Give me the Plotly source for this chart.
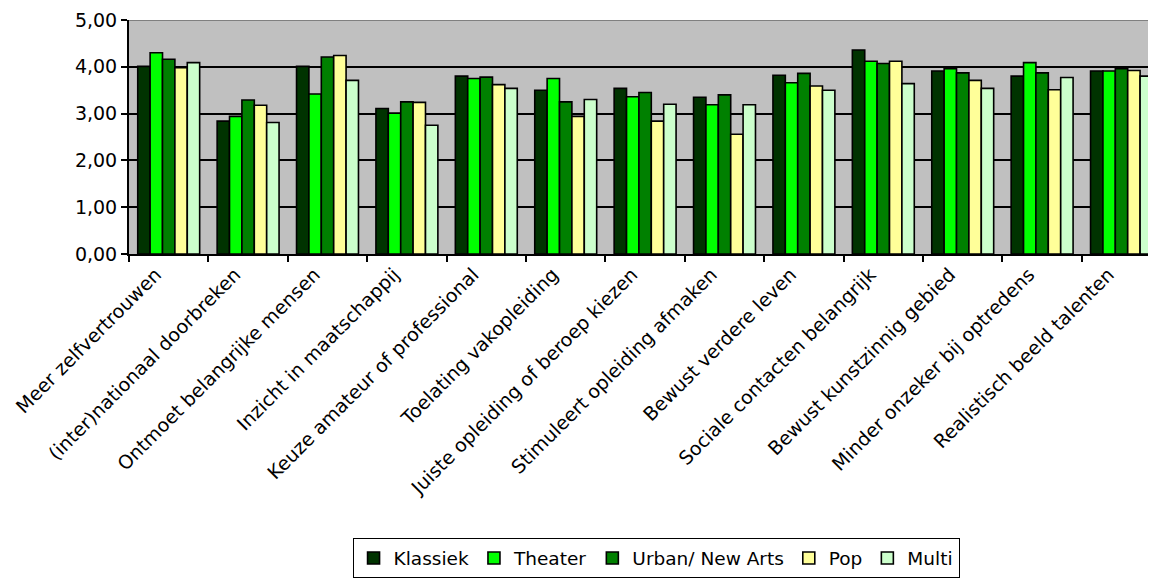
import plotly.graph_objects as go

categories = [
    "Meer zelfvertrouwen",
    "(inter)nationaal doorbreken",
    "Ontmoet belangrijke mensen",
    "Inzicht in maatschappij",
    "Keuze amateur of professional",
    "Toelating vakopleiding",
    "Juiste opleiding of beroep kiezen",
    "Stimuleert opleiding afmaken",
    "Bewust verdere leven",
    "Sociale contacten belangrijk",
    "Bewust kunstzinnig gebied",
    "Minder onzeker bij optredens",
    "Realistisch beeld talenten",
]

klassiek = [4.01, 2.84, 4.01, 3.11, 3.80, 3.50, 3.54, 3.35, 3.82, 4.36, 3.91, 3.80, 3.91]
theater  = [4.30, 2.94, 3.42, 3.01, 3.75, 3.75, 3.36, 3.19, 3.66, 4.12, 3.96, 4.09, 3.91]
urban    = [4.16, 3.29, 4.21, 3.25, 3.78, 3.25, 3.45, 3.40, 3.86, 4.07, 3.87, 3.87, 3.96]
pop      = [3.98, 3.18, 4.24, 3.24, 3.62, 2.94, 2.84, 2.56, 3.59, 4.12, 3.71, 3.51, 3.92]
multi    = [4.09, 2.81, 3.71, 2.75, 3.54, 3.30, 3.20, 3.19, 3.50, 3.64, 3.54, 3.77, 3.80]

series_names = ["Klassiek", "Theater", "Urban/ New Arts", "Pop", "Multi"]
series_values = [klassiek, theater, urban, pop, multi]
series_colors = ["#003300", "#00FF00", "#008000", "#FFFF99", "#CCFFCC"]

y_ticks = [0, 1, 2, 3, 4, 5]

fig = go.Figure()
for name, vals, col in zip(series_names, series_values, series_colors):
    fig.add_trace(go.Bar(
        name=name, x=categories, y=vals,
        marker=dict(color=col, line=dict(color="black", width=1.6)),
    ))

fig.update_layout(
    width=1156, height=580,
    margin=dict(l=121, r=0, t=12, b=334, autoexpand=False),
    barmode="group", bargap=0.22, bargroupgap=0,
    plot_bgcolor="#C0C0C0", paper_bgcolor="white",
    separators=",.",
    font=dict(family="DejaVu Sans", size=19, color="black"),
    showlegend=True,
    legend=dict(
        orientation="h", xref="container", yref="container",
        x=0.5606, xanchor="center", y=0.051, yanchor="middle",
        bordercolor="black", borderwidth=1, bgcolor="white",
        font=dict(size=18.5), itemwidth=30, tracegroupgap=0,
        traceorder="normal",
    ),
)

fig.update_yaxes(
    range=[0, 5], tickvals=y_ticks, tickformat=".2f",
    showgrid=True, gridcolor="black", gridwidth=1.5,
    showline=True, linecolor="black", linewidth=2,
    ticks="outside", ticklen=6, tickwidth=2, tickcolor="black",
    zeroline=False, tickfont=dict(size=19),
)
fig.update_xaxes(
    range=[-0.5, 12.535], tickangle=-45,
    showline=True, linecolor="black", linewidth=2,
    ticks="outside", ticklen=6, tickwidth=2, tickcolor="black",
    tickson="boundaries", showgrid=False,
    tickfont=dict(size=19), ticklabelshift=-13,
)

fig.add_shape(type="line", xref="paper", yref="y", x0=0, x1=1, y0=5, y1=5,
              line=dict(color="#808080", width=2), layer="above")

fig.write_html("out.html")
